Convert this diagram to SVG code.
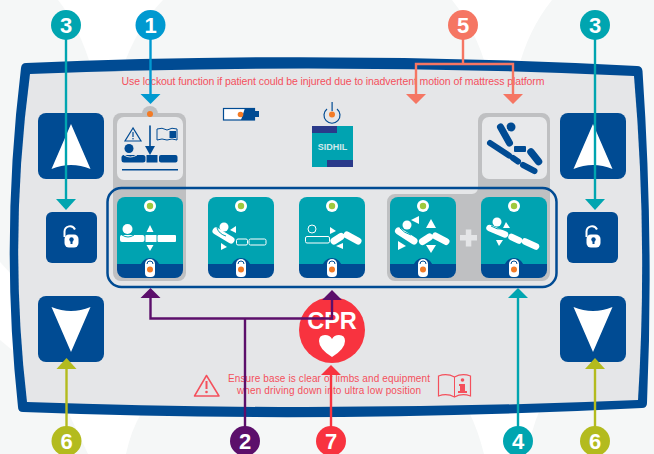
<svg xmlns="http://www.w3.org/2000/svg" width="654" height="454" viewBox="0 0 654 454">
<style>
.tile{fill:#00a3b1}.band{fill:#004b93}.w{fill:#fff}.n{fill:#004b93}
.sw{stroke:#fff;stroke-linecap:round;fill:none}
.sn{stroke:#004b93;stroke-linecap:round;fill:none}
.arc{fill:none;stroke:#00a3b1;stroke-width:1}
.ol{fill:#00a3b1;stroke:#fff;stroke-width:1}
.warn{font-family:"Liberation Sans",Arial,sans-serif;fill:#f4505c}
.num{font-family:"Liberation Sans",Arial,sans-serif;font-weight:700;font-size:22px;fill:#fff;text-anchor:middle}
.btn{fill:#004b93}
.c{fill:none;stroke-width:2.400}
</style>
<defs>
<g id="tilebase">
<path class="tile" d="M8 0H58a8 8 0 0 1 8 8V67H0V8a8 8 0 0 1 8-8Z"/>
<path class="band" d="M0 67H66V73a8 8 0 0 1-8 8H8a8 8 0 0 1-8-8Z"/>
<circle cx="33" cy="9" r="6" fill="#fff"/><circle cx="33" cy="9" r="3.200" fill="#9ec93d"/>
<circle cx="33" cy="71" r="10" fill="#004b93"/>
<path d="M28 76V67a5 5 0 0 1 10 0V76a4 4 0 0 1-4 4H32a4 4 0 0 1-4-4Z" fill="#fff"/>
<path d="M30 67a3 3 0 0 1 6 0" fill="none" stroke="#004b93" stroke-width="1"/>
<circle cx="33" cy="72.500" r="3" fill="#f37b25"/>
</g>
<g id="lock">
<path d="M-6.500 1V-4.500a5.500 5.500 0 0 1 10.500-2" fill="none" stroke="#fff" stroke-width="2"/>
<rect x="-6.500" y="-1.500" width="14" height="13" rx="4.500" fill="#fff"/>
<circle cx="0.500" cy="3.500" r="2.200" fill="#004b93"/><rect x="-0.500" y="4" width="2" height="4" fill="#004b93"/>
</g>
<path id="up" fill="#fff" d="M0 0L19.500 45Q0 37 -19.500 45Z"/>
<path id="down" fill="#fff" d="M0 0L19.500-45Q0-37 -19.500-45Z"/>
</defs>

<rect width="654" height="454" fill="#f5f7f7"/>
<path d="M58 0Q80 28 92 70H122Q136 28 163 0Z" fill="#fff"/>
<path d="M452 0Q476 30 487 70H518Q528 30 552 0Z" fill="#fff"/>
<path d="M0 262L26 290L24 360L0 340Z" fill="#fff"/>
<path d="M68 412L88 454H126Q131 430 142 412Z" fill="#fff"/>
<path d="M469 412Q478 430 484 454H528Q531 430 539 412Z" fill="#fff"/>

<g id="panel">
<path d="M26 63Q330 50 637 66Q642 66 642.500 71Q654 240 647 403Q647 408 642 408Q330 424 23 412Q18 412 18 407Q0 240 21 68Q21.500 63 26 63Z" fill="#004b93"/>
<path d="M30 74Q330 62 634 76Q648 240 638 400Q330 413 27 402Q8 240 30 74Z" fill="#e5e6e8"/>
</g>

<g id="warning-top"><text class="warn" x="333" y="85" font-size="10.500" text-anchor="middle" textLength="423">Use lockout function if patient could be injured due to inadvertent motion of mattress platform</text></g>

<g id="btn-up-left"><rect class="btn" x="38" y="113" width="66" height="66" rx="8"/><use href="#up" x="71" y="124"/></g>
<g id="btn-lock-left"><rect class="btn" x="46" y="212" width="51" height="51" rx="6"/><use href="#lock" x="71" y="236"/></g>
<g id="btn-down-left"><rect class="btn" x="38" y="296" width="66" height="66" rx="8"/><use href="#down" x="71" y="352"/></g>
<g id="btn-up-right"><rect class="btn" x="560" y="113" width="66" height="66" rx="8"/><use href="#up" x="593" y="124"/></g>
<g id="btn-lock-right"><rect class="btn" x="567" y="212" width="51" height="51" rx="6"/><use href="#lock" x="593" y="236"/></g>
<g id="btn-down-right"><rect class="btn" x="560" y="296" width="66" height="66" rx="8"/><use href="#down" x="593" y="352"/></g>

<g id="highlights">
<rect x="113" y="113" width="73" height="168" rx="8" fill="#bfc0c2"/>
<circle cx="150" cy="114" r="8" fill="#bfc0c2"/><circle cx="150" cy="114" r="3" fill="#f37b25"/>
<path d="M486 113H542a8 8 0 0 1 8 8V273a8 8 0 0 1-8 8H395a8 8 0 0 1-8-8V202a8 8 0 0 1 8-8H472a6 6 0 0 0 6-6V121a8 8 0 0 1 8-8Z" fill="#bfc0c2"/>
<rect x="117" y="117" width="66" height="63" rx="7" fill="#e8e9eb"/>
<rect x="482" y="117" width="65" height="62" rx="7" fill="#e8e9eb"/>
</g>

<rect id="frame" x="107.500" y="188" width="449" height="99" rx="14" fill="none" stroke="#004b93" stroke-width="2.500"/>

<g id="lockout-icon">
<path d="M133 128L125 141H141Z" fill="none" stroke="#004b93" stroke-width="1.200"/>
<rect x="132.400" y="132" width="1.200" height="5" class="n"/><circle cx="133" cy="138.800" r=".8" class="n"/>
<path d="M157 129Q162 127 167 130Q172 127 177 129V140Q172 138 167 140Q162 138 157 140Z" fill="#e8e9eb" stroke="#004b93" stroke-width="1"/>
<rect x="169.500" y="131" width="6.500" height="7" class="n"/>
<path d="M150 126V148" class="sn" stroke-width="1.600"/><path d="M145 146H155L150 155Z" class="n"/>
<circle cx="129" cy="148.500" r="4.500" class="n"/>
<rect x="121.500" y="155" width="24" height="7.500" rx="2.500" class="n"/><rect x="146.500" y="155" width="11" height="7.500" class="n"/><rect x="159" y="155" width="18.500" height="7.500" rx="2" class="n"/>
<path d="M124 155Q130 159 137 155" fill="none" stroke="#e8e9eb" stroke-width="1"/>
<rect x="122" y="169" width="56" height="1.500" class="n"/>
</g>
<g id="tilt-icon">
<circle cx="511" cy="127" r="4.500" class="n"/>
<path d="M500.500 127L509.500 143" class="sn" stroke-width="7"/>
<path d="M505 124Q507 133 514 136" fill="none" stroke="#e8e9eb" stroke-width="1"/>
<rect x="514" y="146" width="12" height="6" rx="1" class="n"/>
<path d="M531 152L538.500 161.500" class="sn" stroke-width="7.500"/>
<path d="M490 143L509 155.500M513 158L518 161.500M523 165L534.500 171" class="sn" stroke-width="6"/>
</g>
<g id="battery"><rect x="223.500" y="108.500" width="31" height="11.500" fill="#fff" stroke="#004b93" stroke-width="1.200"/><path d="M245 108H255V120H241Z" class="n"/><rect x="255" y="111" width="4" height="6" class="n"/><circle cx="240.500" cy="114.500" r="2.800" fill="#f37b25"/></g>
<g id="power"><path d="M327 109A8 8 0 1 0 337 109" fill="none" stroke="#004b93" stroke-width="1.200"/><rect x="331.500" y="102" width="1.200" height="9" class="n"/><circle cx="332" cy="114.500" r="3" fill="#f37b25"/></g>
<g id="logo"><rect x="312" y="126" width="41" height="41" fill="#00a3b1"/><rect x="312" y="126" width="25" height="7" fill="#2a3a8a"/><rect x="327" y="160" width="26" height="7" fill="#2a3a8a"/>
<text x="332.500" y="150" font-family="'Liberation Sans',Arial,sans-serif" font-size="9" font-weight="700" fill="#cfe9ec" text-anchor="middle">SIDHIL</text></g>

<g id="tile-1"><use href="#tilebase" x="117" y="197"/>
<circle cx="127.500" cy="229" r="5" class="w"/><rect x="120" y="235" width="24.500" height="7" rx="2" class="w"/><rect x="145.500" y="235" width="11" height="7" class="w"/><rect x="157.500" y="235" width="18.500" height="7" rx="1" class="w"/>
<path d="M122 235Q128 239 134 235" class="arc"/>
<path d="M150 225L153.500 232H146.500ZM150 251L153.500 245H146.500Z" class="w"/></g>
<g id="tile-2"><use href="#tilebase" x="208" y="197"/>
<circle cx="224" cy="227" r="4.500" class="w"/><path d="M216 231L231 240" class="sw" stroke-width="7"/><path d="M217 228Q219 234 226 236" class="arc"/>
<rect x="236.500" y="239" width="11" height="6" rx="1.500" class="ol"/><rect x="249" y="239" width="17" height="6" rx="1.500" class="ol"/>
<path d="M230 230L236 226V233ZM221 243L227 247L221 250Z" class="w"/></g>
<g id="tile-3"><use href="#tilebase" x="299" y="197"/>
<circle cx="312" cy="229" r="4" class="ol"/><rect x="305.500" y="236.500" width="24" height="6.500" rx="1.500" class="ol"/>
<path d="M334 241L341 236.500M347 235L358 241" class="sw" stroke-width="7"/>
<path d="M330 227L336 231L330 234ZM343 243V249L336 246Z" class="w"/></g>
<g id="tile-4"><use href="#tilebase" x="390" y="197"/>
<circle cx="407" cy="225" r="4.500" class="w"/><path d="M398.500 231L414 241" class="sw" stroke-width="7"/><path d="M400 228Q404 233 411 235" class="arc"/><path d="M422.500 241.500L429.500 237M435.500 236L446 241.500" class="sw" stroke-width="7"/>
<path d="M411 220L419 216V224ZM431 219L436 228H426ZM398 241L406 246L398 250ZM426 245H436L431 253Z" class="w"/></g>
<g id="plus" fill="#e4e5e7"><rect x="460" y="235" width="17" height="5.500"/><rect x="465.800" y="229.500" width="5.500" height="17"/></g>
<g id="tile-5"><use href="#tilebase" x="481" y="197"/>
<circle cx="497" cy="222" r="4.500" class="w"/><path d="M489.500 228L505 234.500M511.500 237L519 240.500M525 241.500L536 246.500" class="sw" stroke-width="6.500"/><path d="M491 226Q497 230 503 229" class="arc"/>
<path d="M506 222L510 228H503ZM496 240H503L499 246Z" class="w"/></g>

<g id="cpr"><circle cx="332" cy="330" r="33" fill="#f8333f"/>
<text x="332" y="329" font-family="'Liberation Sans',Arial,sans-serif" font-size="23.500" font-weight="700" fill="#fff" text-anchor="middle">CPR</text>
<path d="M332 357Q319 349 319 341Q319 335 325 335Q330 335 332 339Q334 335 339 335Q345 335 345 341Q345 349 332 357Z" fill="#fff"/></g>

<g id="warning-bottom">
<path d="M206.500 375.500L194.500 396H219Z" fill="none" stroke="#f4505c" stroke-width="1.500" stroke-linejoin="round"/>
<rect x="205.500" y="381" width="2" height="8" fill="#f4505c"/><circle cx="206.500" cy="392" r="1.300" fill="#f4505c"/>
<text class="warn" x="329" y="382" font-size="10" text-anchor="middle" textLength="202">Ensure base is clear of limbs and equipment</text>
<text class="warn" x="329" y="394" font-size="10" text-anchor="middle" textLength="184">when driving down into ultra low position</text>
<path d="M438.500 376Q447 373 454.500 377Q462 373 470.500 376V396Q462 393 454.500 397Q447 393 438.500 396Z" fill="none" stroke="#f4505c" stroke-width="1.200"/>
<path d="M454.500 377V397" stroke="#f4505c" stroke-width="1"/>
<circle cx="462.500" cy="380" r="1.800" fill="#f4505c"/><path d="M459 384H465V391H467V393H458V391H460V386H459Z" fill="#f4505c"/>
</g>

<g id="connectors">
<path class="c" stroke="#0099d0" d="M150.500 30V95"/><path d="M140.500 94H160.500L150.500 104Z" fill="#0099d0"/>
<path class="c" stroke="#00a5b0" d="M66 30V200"/><path d="M56 199H76L66 210Z" fill="#00a5b0"/>
<path class="c" stroke="#00a5b0" d="M595 30V200"/><path d="M585 199H605L595 210Z" fill="#00a5b0"/>
<path class="c" stroke="#f57663" d="M463 30V63.500M416 95V64H513V95"/><path d="M406 94H426L416 104ZM503 94H523L513 104Z" fill="#f57663"/>
<path class="c" stroke="#5c0f6b" d="M245 430V318M150.500 298V318.500H332V299"/><path d="M140.500 298H160.500L150.500 288ZM322 300H342L332 290Z" fill="#5c0f6b"/>
<path class="c" stroke="#f8333f" d="M331 430V374"/><path d="M321 375H341L331 365Z" fill="#f8333f"/>
<path class="c" stroke="#00a5b0" d="M518 430V297"/><path d="M508 298H528L518 288Z" fill="#00a5b0"/>
<path class="c" stroke="#b3bb1e" d="M66.500 430V368"/><path d="M56.500 369H76.500L66.500 358Z" fill="#b3bb1e"/>
<path class="c" stroke="#b3bb1e" d="M595 430V368"/><path d="M585 369H605L595 358Z" fill="#b3bb1e"/>
</g>

<g id="callout-1"><circle cx="150.500" cy="25" r="15" fill="#0099d0"/><text class="num" x="150.500" y="33">1</text></g>
<g id="callout-3a"><circle cx="66" cy="25" r="15" fill="#00a5b0"/><text class="num" x="66" y="33">3</text></g>
<g id="callout-3b"><circle cx="595" cy="25" r="15" fill="#00a5b0"/><text class="num" x="595" y="33">3</text></g>
<g id="callout-5"><circle cx="463" cy="25" r="15" fill="#f57663"/><text class="num" x="463" y="33">5</text></g>
<g id="callout-6a"><circle cx="66.500" cy="441" r="15" fill="#b3bb1e"/><text class="num" x="66.500" y="449">6</text></g>
<g id="callout-2"><circle cx="245" cy="441" r="15" fill="#5c0f6b"/><text class="num" x="245" y="449">2</text></g>
<g id="callout-7"><circle cx="331" cy="441" r="15" fill="#f8333f"/><text class="num" x="331" y="449">7</text></g>
<g id="callout-4"><circle cx="518" cy="441" r="15" fill="#00a5b0"/><text class="num" x="518" y="449">4</text></g>
<g id="callout-6b"><circle cx="595" cy="441" r="15" fill="#b3bb1e"/><text class="num" x="595" y="449">6</text></g>
</svg>
